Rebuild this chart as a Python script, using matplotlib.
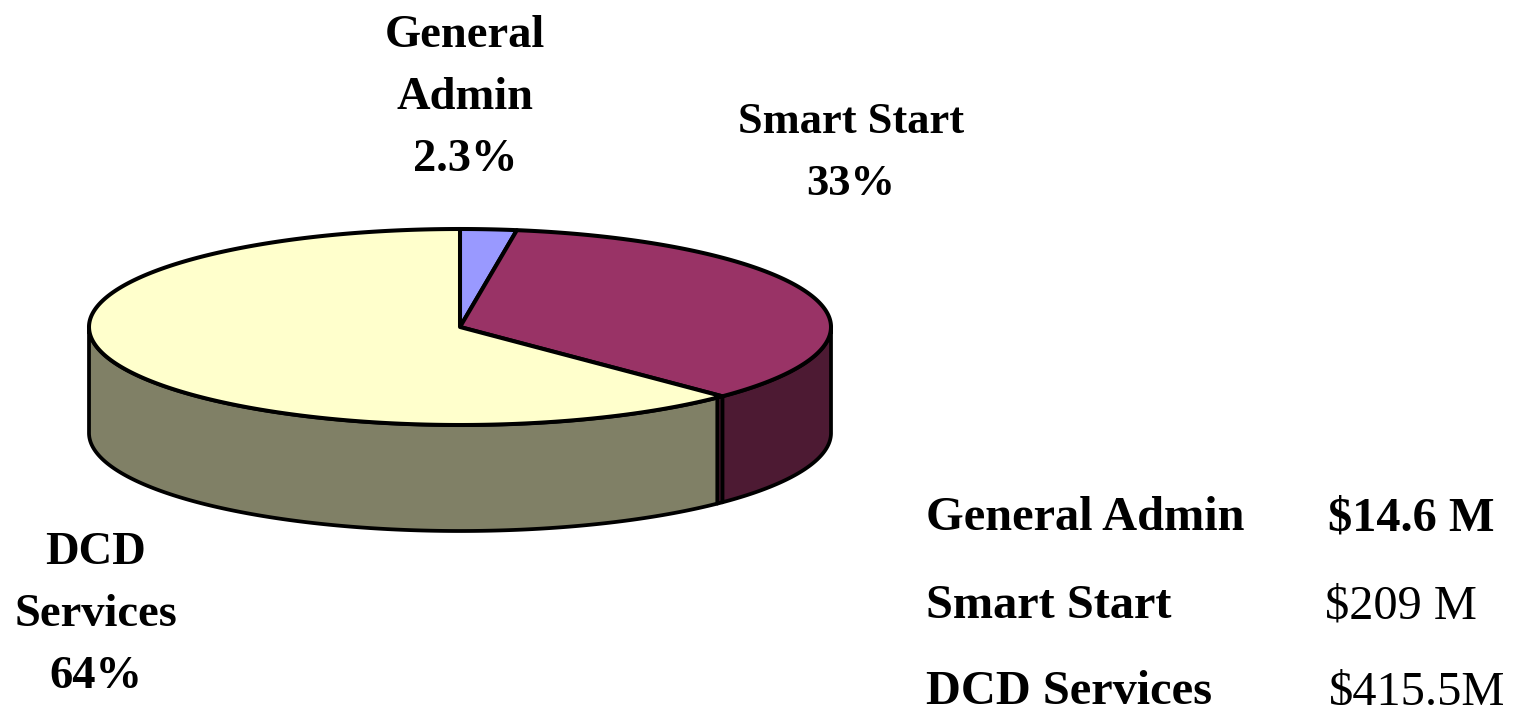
import numpy as np
import matplotlib
matplotlib.use('Agg')
import matplotlib.pyplot as plt

# shares as they are drawn in the picture (the 3D tilt stretches them a bit)
categories = ['General Admin', 'Smart Start', 'DCD Services']
drawn_shares = [2.45, 35.05, 62.5]
top_colors = ['#9999FF', '#993366', '#FFFFCC']
side_colors = ['#4D4D80', '#4D1A33', '#808066']

pie_labels = ['General\nAdmin\n2.3%', 'Smart Start\n33%', 'DCD\nServices\n64%']
table_names = ['General Admin', 'Smart Start', 'DCD Services']
table_amounts = ['$14.6 M', '$209 M', '$415.5M']

label_x = [465, 851, 96]
label_y = [98, 153, 615]
label_size = [33.5, 32, 33.5]
label_spacing = [1.64, 1.72, 1.64]
table_bold = ['bold', 'normal', 'normal']
amount_x = [1411, 1401, 1417]
table_y = [518, 606, 692]

cx, cy = 460, 327
rx, ry = 371, 98
depth = 106
gap = 0.019  # thin sliver between the two front walls

plt.rcParams['font.family'] = ['Liberation Serif']

fig = plt.figure(figsize=(15.16, 7.05), dpi=100)
ax = fig.add_axes([0, 0, 1, 1])
ax.set_xlim(0, 1516)
ax.set_ylim(705, 0)
ax.axis('off')


def rim(t):
    return cx + rx * np.sin(t), cy - ry * np.cos(t)


def wall(a, b, color):
    t = np.linspace(a, b, 200)
    x, y = rim(t)
    ax.fill(np.r_[x, x[::-1]], np.r_[y, y[::-1] + depth], facecolor=color,
            edgecolor='black', lw=2.7, joinstyle='round')


edges = np.cumsum([0] + drawn_shares) / 100 * 2 * np.pi

# side walls first, only the part of each slice that faces the viewer
wall(np.pi / 2, edges[2], side_colors[1])
wall(edges[2], edges[2] + gap, side_colors[1])
wall(edges[2] + gap, 3 * np.pi / 2, side_colors[2])

# top of the pie
for i in range(3):
    t = np.linspace(edges[i], edges[i + 1], 300)
    x, y = rim(t)
    ax.fill(np.r_[cx, x], np.r_[cy, y], facecolor=top_colors[i],
            edgecolor='black', lw=2.9, joinstyle='round')

for s, x, y, size, sp in zip(pie_labels, label_x, label_y, label_size, label_spacing):
    ax.text(x, y, s, ha='center', va='center', fontsize=size, fontweight='bold',
            color='black', linespacing=sp)

for name, amount, w, a_x, y in zip(table_names, table_amounts, table_bold, amount_x, table_y):
    ax.text(926, y, name, ha='left', va='center', fontsize=34.8, fontweight='bold')
    ax.text(a_x, y, amount, ha='center', va='center', fontsize=34.8, fontweight=w)

fig.savefig('out.png', dpi=100, facecolor='white')
